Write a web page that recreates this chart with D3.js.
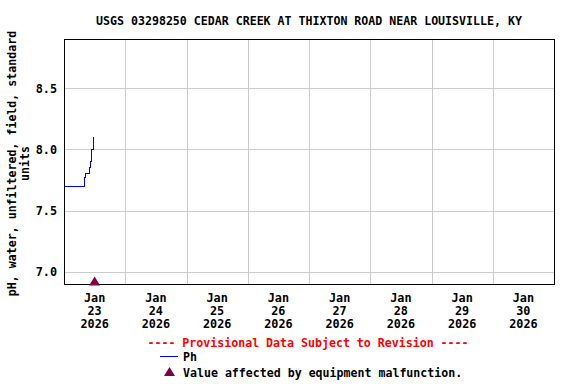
<!DOCTYPE html>
<html>
<head>
<meta charset="utf-8">
<script src="https://cdn.jsdelivr.net/npm/d3@7"></script>
<style>
  html, body { margin: 0; padding: 0; background: #fff; }
  svg { display: block; }
  text { font-family: "DejaVu Sans Mono", "Liberation Mono", monospace; font-weight: bold; }
</style>
</head>
<body>
<script>
// ---- data ----
const titleText = "USGS 03298250 CEDAR CREEK AT THIXTON ROAD NEAR LOUISVILLE, KY";
const yTitleLines = ["pH, water, unfiltered, field, standard", "units"];
const xDomain = ["2026-01-23T00:00", "2026-01-31T00:00"];
const yDomain = [6.9, 8.9];
const yTicks = [7.0, 7.5, 8.0, 8.5];
const dayTicks = ["2026-01-23", "2026-01-24", "2026-01-25", "2026-01-26",
                  "2026-01-27", "2026-01-28", "2026-01-29", "2026-01-30", "2026-01-31"];
const phTimes = ["2026-01-23T00:00", "2026-01-23T07:45", "2026-01-23T08:00", "2026-01-23T08:15",
                 "2026-01-23T08:30", "2026-01-23T09:45", "2026-01-23T10:00", "2026-01-23T10:15",
                 "2026-01-23T10:30", "2026-01-23T10:45", "2026-01-23T11:15", "2026-01-23T11:30"];
const phValues = [7.7, 7.7, 7.77, 7.77, 7.8, 7.8, 7.85, 7.9, 7.9, 8.0, 8.0, 8.1];
const malfunctionTimes = ["2026-01-23T12:00"];
const provisionalText = "---- Provisional Data Subject to Revision ----";
const legendSeries = "Ph";
const legendMalfunction = "Value affected by equipment malfunction.";

// ---- layout ----
const W = 576, H = 384;
const plot = { left: 64, right: 554, top: 39, bottom: 284 };
const parse = d3.timeParse("%Y-%m-%dT%H:%M");
const parseDay = d3.timeParse("%Y-%m-%d");

const svg = d3.select("body").append("svg").attr("width", W).attr("height", H);

const x = d3.scaleTime().domain(xDomain.map(parse)).range([plot.left, plot.right]);
const y = d3.scaleLinear().domain(yDomain).range([plot.bottom, plot.top]);

// gridlines
const days = dayTicks.map(parseDay);
svg.append("g").selectAll("line").data(days.slice(1, -1)).join("line")
  .attr("x1", d => Math.round(x(d)) + 0.5).attr("x2", d => Math.round(x(d)) + 0.5)
  .attr("y1", plot.top).attr("y2", plot.bottom)
  .attr("stroke", "#cccccc").attr("stroke-width", 1);
svg.append("g").selectAll("line").data(yTicks).join("line")
  .attr("x1", plot.left).attr("x2", plot.right)
  .attr("y1", d => Math.round(y(d)) + 0.5).attr("y2", d => Math.round(y(d)) + 0.5)
  .attr("stroke", "#cccccc").attr("stroke-width", 1);

// data line
const pts = phTimes.map((t, i) => ({ t: parse(t), v: phValues[i] }));
svg.append("path").datum(pts)
  .attr("fill", "none").attr("stroke", "#0000ff").attr("stroke-width", 1)
  .attr("shape-rendering", "crispEdges")
  .attr("d", d3.line().curve(d3.curveStepAfter).x(d => x(d.t)).y(d => y(d.v)));

// border
svg.append("rect").attr("x", plot.left + 0.5).attr("y", plot.top + 0.5)
  .attr("width", plot.right - plot.left).attr("height", plot.bottom - plot.top)
  .attr("fill", "none").attr("stroke", "#000").attr("stroke-width", 1);

// malfunction markers
const tri = (cx, cy, w, h) => `M${cx},${cy - h / 2}L${cx + w / 2},${cy + h / 2}L${cx - w / 2},${cy + h / 2}Z`;
svg.append("g").selectAll("path").data(malfunctionTimes.map(parse)).join("path")
  .attr("d", d => tri(x(d), plot.bottom - 3, 11, 9))
  .attr("fill", "#800040");

// title
svg.append("text").attr("x", (plot.left + plot.right) / 2).attr("y", 24.5)
  .attr("text-anchor", "middle").attr("font-size", "11.6px").text(titleText);

// y tick labels
svg.append("g").selectAll("text").data(yTicks).join("text")
  .attr("x", 57).attr("y", d => y(d) + 4.5)
  .attr("text-anchor", "end").attr("font-size", "11.8px")
  .text(d => d3.format(".1f")(d));

// y title
const yc = (plot.top + plot.bottom) / 2 + 2;
svg.append("g").selectAll("text").data(yTitleLines).join("text")
  .attr("transform", (d, i) => `translate(${16 + i * 13},${yc}) rotate(-90)`)
  .attr("text-anchor", "middle").attr("font-size", "11.6px").text(d => d);

// x tick labels (centered at noon of each day)
const fmtMon = d3.timeFormat("%b"), fmtDay = d3.timeFormat("%d"), fmtYear = d3.timeFormat("%Y");
const labelDays = days.slice(0, -1);
const xl = svg.append("g").selectAll("g").data(labelDays).join("g")
  .attr("transform", d => `translate(${x(d3.timeHour.offset(d, 12))},0)`);
xl.append("text").attr("y", 302).attr("text-anchor", "middle").attr("font-size", "11.8px").text(fmtMon);
xl.append("text").attr("y", 315.3).attr("text-anchor", "middle").attr("font-size", "11.8px").text(fmtDay);
xl.append("text").attr("y", 328).attr("text-anchor", "middle").attr("font-size", "11.8px").text(fmtYear);

// legend
svg.append("text").attr("x", 308).attr("y", 347).attr("text-anchor", "middle")
  .attr("font-size", "11.6px").attr("fill", "#ff0000").text(provisionalText);
svg.append("line").attr("x1", 160).attr("x2", 178).attr("y1", 356.5).attr("y2", 356.5)
  .attr("stroke", "#0000ff").attr("stroke-width", 1);
svg.append("text").attr("x", 183).attr("y", 361).attr("font-size", "11.6px").text(legendSeries);
svg.append("path").attr("d", tri(169.5, 371.5, 11, 9)).attr("fill", "#800040");
svg.append("text").attr("x", 183).attr("y", 377).attr("font-size", "11.6px").text(legendMalfunction);
</script>
</body>
</html>
